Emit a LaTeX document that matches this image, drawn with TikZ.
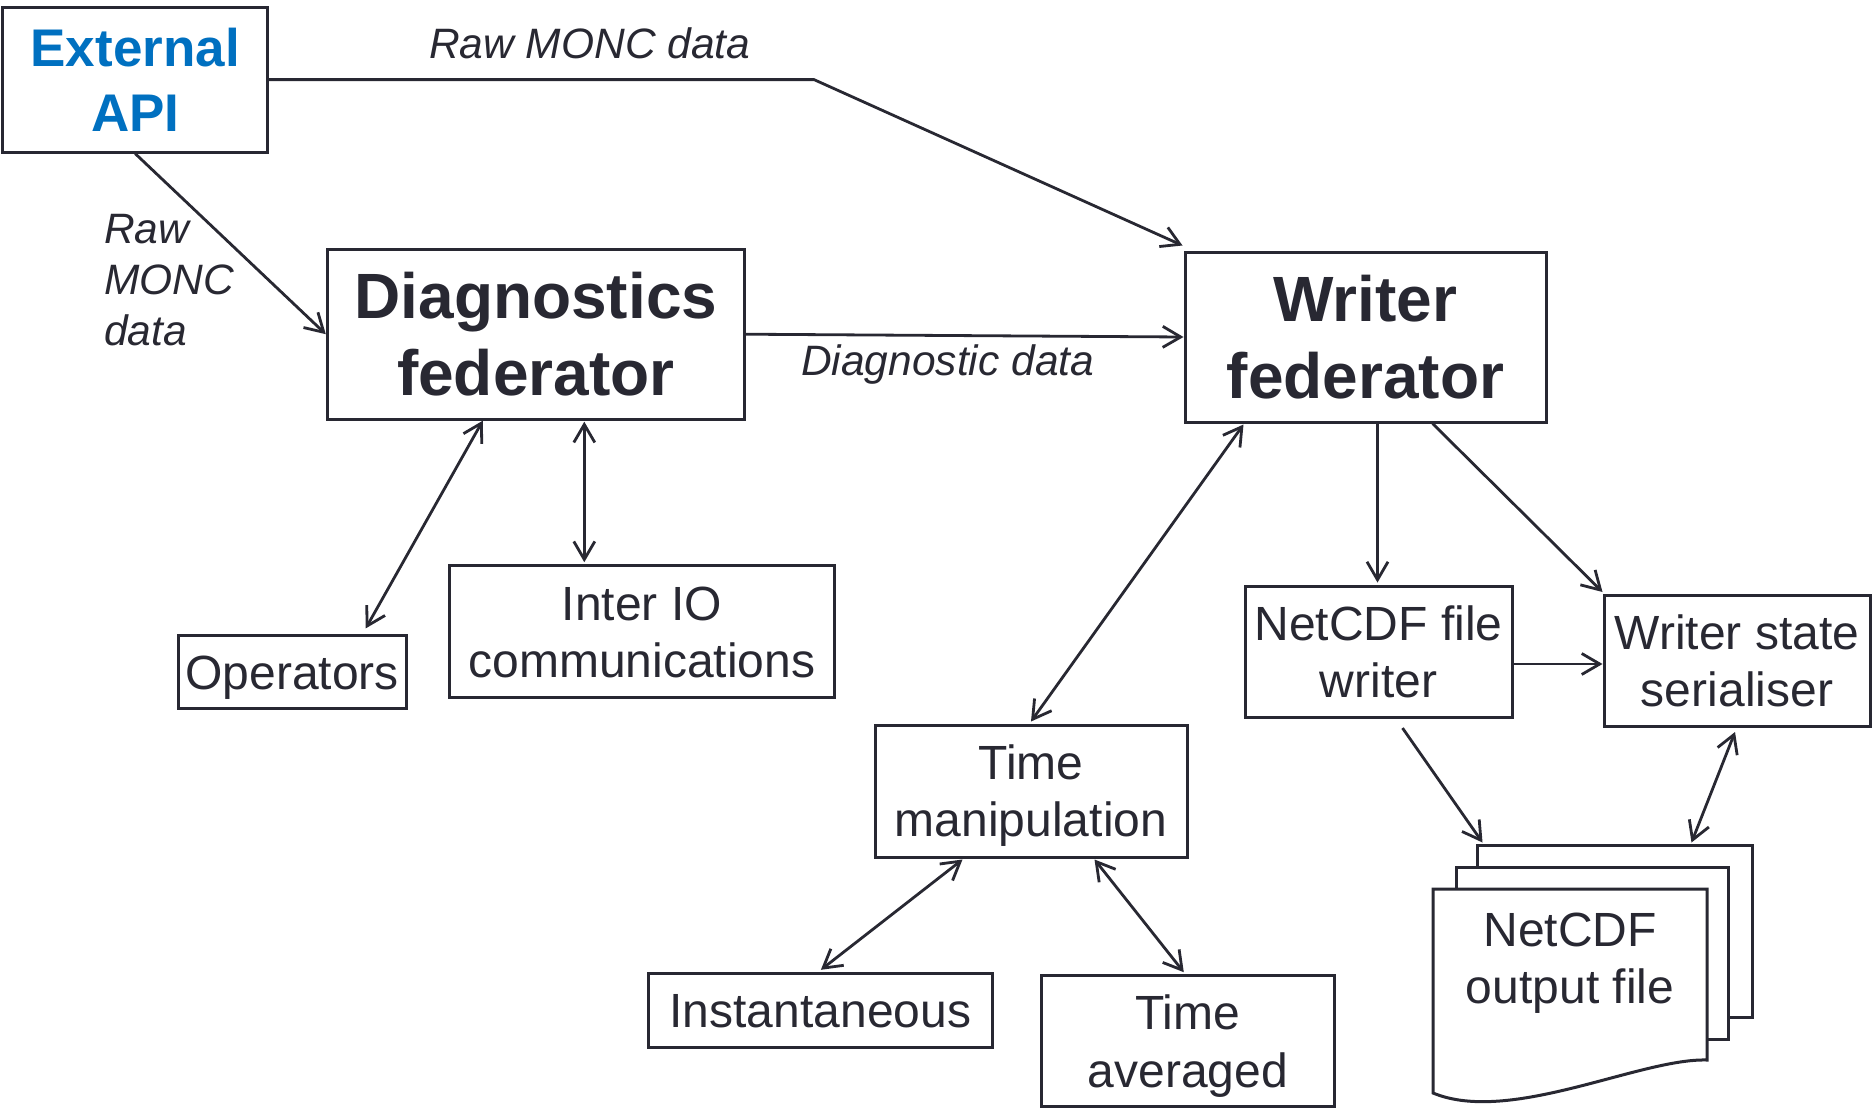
\documentclass[tikz,border=0pt]{standalone}
\usepackage{fontspec}
\setmainfont{Liberation Sans}
\usetikzlibrary{arrows.meta,calc}
\definecolor{ink}{RGB}{40,40,50}
\definecolor{apiblue}{RGB}{0,112,192}

\begin{document}
\begin{tikzpicture}[x=1pt,y=-1pt,
  box/.style={draw=ink, line width=3pt, fill=white, inner sep=0pt, text=ink, align=center},
  heavy/.style={font=\fontsize{64}{77}\selectfont\bfseries, text height=122.8pt, text depth=0pt},
  apitext/.style={font=\fontsize{53}{65}\selectfont\bfseries, text=apiblue, text height=103pt, text depth=0pt},
  plain/.style={font=\fontsize{48}{57.5}\selectfont},
  oneline/.style={text height=34.4pt, text depth=0pt},
  twolines/.style={text height=91.9pt, text depth=0pt},
  lbl/.style={font=\fontsize{42.5}{51}\selectfont\itshape, text=ink, inner sep=0pt, text height=30.4pt, text depth=0pt},
  link/.style={draw=ink, line width=2.8pt, -{Straight Barb[length=18pt,width=21pt]}},
  duplex/.style={draw=ink, line width=2.8pt, {Straight Barb[length=18pt,width=21pt]}-{Straight Barb[length=18pt,width=21pt]}},
  sheet/.style={draw=ink, line width=3pt, fill=white, inner sep=0pt},
]
\useasboundingbox (0,0) rectangle (1874,1111);

% main components
\node[box, apitext, minimum width=265pt, minimum height=145pt] (api) at (135.2,79.6) {External\\API};
\node[box, heavy, minimum width=417pt, minimum height=170pt] (diag) at (535.8,334.2) {Diagnostics\\federator};
\node[box, heavy, minimum width=361pt, minimum height=170pt] (wfed) at (1365.5,337) {Writer\\federator};
\node[box, plain, oneline, minimum width=228pt, minimum height=73pt] (ops) at (292.2,672.4) {Operators};
\node[box, plain, twolines, minimum width=385pt, minimum height=132pt] (inter) at (641.8,631.7) {Inter IO\\communications};
\node[box, plain, twolines, minimum width=267pt, minimum height=131.5pt] (ncw) at (1378.5,651.8) {NetCDF file\\writer};
\node[box, plain, twolines, minimum width=266pt, minimum height=131pt] (wss) at (1737,661) {Writer state\\serialiser};
\node[box, plain, twolines, minimum width=312pt, minimum height=132pt] (tman) at (1031,791) {Time\\manipulation};
\node[box, plain, oneline, minimum width=344pt, minimum height=74pt] (inst) at (820.4,1010.3) {Instantaneous};
\node[box, plain, twolines, minimum width=293pt, minimum height=131pt] (tavg) at (1187.8,1041.2) {Time\\averaged};

% stacked output files
\node[sheet, minimum width=275pt, minimum height=172pt] (filec) at (1614.5,931) {};
\node[sheet, minimum width=272pt, minimum height=172pt] (fileb) at (1592,953) {};
\draw[sheet] (1433,889) -- (1707,889) -- (1707,1060)
  .. controls (1640,1058) and (1510,1125) .. (1433,1093) -- cycle;
\node[plain, twolines, text=ink, inner sep=0pt, align=center] (outtxt) at (1570,958) {NetCDF\\output file};

% edge labels
\node[lbl, anchor=north west] (rawtop) at (429,28) {Raw MONC data};
\node[lbl, anchor=north west, align=left, text height=132.4pt] (rawleft) at (104,212.5) {Raw\\MONC\\data};
\node[lbl, anchor=north west] (diaglbl) at (801,345) {Diagnostic data};

% connectors
\coordinate (bend) at (814,79.6);
\coordinate (arrowrow) at (0,664);
\draw[link] (api.east) -- (bend) -- ([xshift=-1pt,yshift=5pt]wfed.north west);
\draw[link] (api.south) -- (diag.west);
\draw[link] (diag.east) -- (wfed.west);
\draw[duplex] ($(diag.south west)+(157,0)$) -- ($(ops.north west)+(189,-6)$);
\draw[duplex] ($(diag.south west)+(258.5,1)$) -- ($(inter.north west)+(136.5,-2)$);
\draw[duplex] ($(wfed.south west)+(60,1)$) -- ($(tman.north west)+(157.5,-2)$);
\draw[link] ($(wfed.south west)+(194,0)$) -- ($(ncw.north west)+(134,-2)$);
\draw[link] ($(wfed.south west)+(249,0)$) -- ($(wss.north west)+(0,-2)$);
\draw[link] (ncw.east |- arrowrow) -- (wss.west |- arrowrow);
\draw[link] ($(ncw.south west)+(159,9)$) -- ($(filec.north west)+(7,-1)$);
\draw[duplex] ($(wss.south west)+(132.5,4)$) -- ($(filec.north west)+(216,-1)$);
\draw[duplex] ($(tman.south west)+(89,1)$) -- ($(inst.north west)+(174,-2)$);
\draw[duplex] ($(tman.south west)+(221,1)$) -- ($(tavg.north west)+(144,-2)$);
\end{tikzpicture}
\end{document}
